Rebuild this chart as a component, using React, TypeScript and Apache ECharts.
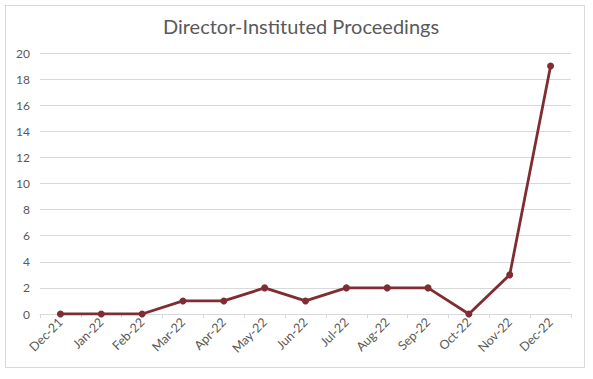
import React, { useEffect, useRef } from "react";
import * as echarts from "echarts";

const categories = ["Dec-21","Jan-22","Feb-22","Mar-22","Apr-22","May-22","Jun-22","Jul-22","Aug-22","Sep-22","Oct-22","Nov-22","Dec-22"];
const values = [0,0,0,1,1,2,1,2,2,2,0,3,19];
const title = "Director-Instituted Proceedings";

export default function App() {
  const ref = useRef<HTMLDivElement>(null);
  useEffect(() => {
    document.body.style.margin = "0";
    const chart = echarts.init(ref.current!, null, { renderer: "svg" });
    chart.setOption({
      animation: false,
      backgroundColor: "#ffffff",
      title: {
        text: title,
        left: 296,
        textAlign: "center",
        top: 11,
        textStyle: { fontFamily: "Lato", fontWeight: "normal", fontSize: 20, color: "#595959" },
      },
      grid: { left: 40, right: 22, top: 53, bottom: 65 },
      xAxis: {
        type: "category",
        data: categories,
        boundaryGap: true,
        axisLine: { lineStyle: { color: "#d9d9d9", width: 1 } },
        axisTick: { show: true, length: 4, lineStyle: { color: "#d9d9d9" } },
        axisLabel: { rotate: 45, fontFamily: "Lato", fontSize: 12.5, color: "#595959", margin: 6 },
      },
      yAxis: {
        type: "value",
        min: 0,
        max: 20,
        interval: 2,
        axisLine: { show: false },
        axisTick: { show: false },
        splitLine: { lineStyle: { color: "#d9d9d9", width: 1 } },
        axisLabel: { fontFamily: "Lato", fontSize: 12, color: "#595959", margin: 10 },
      },
      series: [
        {
          type: "line",
          data: values,
          symbol: "circle",
          symbolSize: 7,
          lineStyle: { color: "#7f2d33", width: 2.8 },
          itemStyle: { color: "#7f2d33" },
        },
      ],
    });
    return () => chart.dispose();
  }, []);
  return (
    <div style={{ position: "relative", width: 593, height: 379, background: "#fff" }}>
      <div ref={ref} style={{ position: "absolute", left: 0, top: 0, width: 593, height: 379 }} />
      <div style={{ position: "absolute", left: 5, top: 5, width: 580, height: 363, border: "1px solid #d9d9d9", pointerEvents: "none", boxSizing: "border-box" }} />
    </div>
  );
}
